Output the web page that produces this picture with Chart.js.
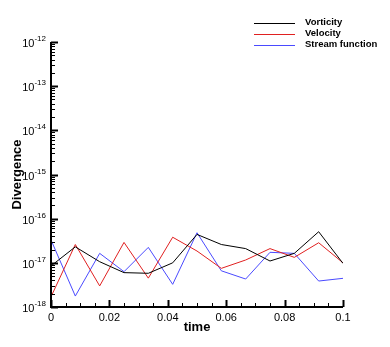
<!DOCTYPE html>
<html>
<head>
<meta charset="utf-8">
<script src="https://cdn.jsdelivr.net/npm/chart.js@4/dist/chart.umd.min.js"></script>
<style>
html,body{margin:0;padding:0;background:#fff;}
#wrap{width:390px;height:347px;position:relative;}
</style>
</head>
<body>
<div id="wrap"><canvas id="c" width="390" height="347"></canvas></div>
<script>
const times = [0, 0.00833, 0.01667, 0.025, 0.03333, 0.04167, 0.05, 0.05833, 0.06667, 0.075, 0.08333, 0.09167, 0.1];
const vorticity = [8.5e-18, 2.3e-17, 1.06e-17, 6.0e-18, 5.8e-18, 1.0e-17, 4.4e-17, 2.6e-17, 2.1e-17, 1.1e-17, 1.64e-17, 5.06e-17, 9.7e-18];
const velocity = [1.7e-18, 2.6e-17, 3.0e-18, 2.9e-17, 4.5e-18, 3.8e-17, 1.85e-17, 7.5e-18, 1.16e-17, 2.1e-17, 1.33e-17, 2.85e-17, 1.0e-17];
const streamFunction = [3.3e-17, 1.77e-18, 1.64e-17, 6.3e-18, 2.24e-17, 3.26e-18, 4.8e-17, 6.6e-18, 4.3e-18, 1.73e-17, 1.64e-17, 3.87e-18, 4.46e-18];
const seriesNames = ['Vorticity', 'Velocity', 'Stream function'];
const xTicks = [0, 0.02, 0.04, 0.06, 0.08, 0.1];
const xTickLabels = ['0', '0.02', '0.04', '0.06', '0.08', '0.1'];
const yExponents = [-18, -17, -16, -15, -14, -13, -12];
const yTickLabels = ['-18', '-17', '-16', '-15', '-14', '-13', '-12'];
const xTitle = 'time';
const yTitle = 'Divergence';

const colors = ['#000000', '#e02020', '#4a4aff'];
const FONT = '"Liberation Sans", Arial, Helvetica, sans-serif';

function mk(name, vals, color) {
  return {
    label: name,
    data: times.map((t, i) => ({x: t, y: vals[i]})),
    borderColor: color,
    backgroundColor: color,
    borderWidth: 1,
    pointRadius: 0,
    tension: 0,
    fill: false
  };
}

const axesPlugin = {
  id: 'axesPlugin',
  afterDatasetsDraw(chart) {
    const ctx = chart.ctx;
    const xs = chart.scales.x, ys = chart.scales.y;
    const a = chart.chartArea;
    ctx.save();
    ctx.strokeStyle = '#000';
    ctx.fillStyle = '#000';
    ctx.lineWidth = 2;
    ctx.beginPath();
    ctx.moveTo(a.left, a.top);
    ctx.lineTo(a.left, a.bottom);
    ctx.lineTo(a.right, a.bottom);
    ctx.stroke();
    for (let k = 0; k < yExponents.length; k++) {
      const e = yExponents[k];
      const py = Math.round(ys.getPixelForValue(Math.pow(10, e))) + 0.5;
      ctx.lineWidth = 2;
      ctx.beginPath();
      ctx.moveTo(a.left, py);
      ctx.lineTo(a.left + 7, py);
      ctx.stroke();
      if (k < yExponents.length - 1) {
        ctx.lineWidth = 1;
        for (let m = 2; m <= 9; m++) {
          const my = Math.round(ys.getPixelForValue(m * Math.pow(10, e))) + 0.5;
          ctx.beginPath();
          ctx.moveTo(a.left, my);
          ctx.lineTo(a.left + 4, my);
          ctx.stroke();
        }
      }
      ctx.textBaseline = 'middle';
      ctx.textAlign = 'right';
      ctx.font = '8px ' + FONT;
      const ew = ctx.measureText(yTickLabels[k]).width;
      const right = a.left - 5;
      ctx.fillText(yTickLabels[k], right, py - 4);
      ctx.font = '11px ' + FONT;
      ctx.fillText('10', right - ew, py + 1);
    }
    for (let i = 0; i <= 20; i++) {
      const v = i * 0.005;
      const px = Math.round(xs.getPixelForValue(v)) + 0.5;
      const major = i % 4 === 0;
      ctx.lineWidth = major ? 2 : 1;
      ctx.beginPath();
      ctx.moveTo(px, a.bottom);
      ctx.lineTo(px, a.bottom - (major ? 7 : 4));
      ctx.stroke();
    }
    ctx.font = '11px ' + FONT;
    ctx.textAlign = 'center';
    ctx.textBaseline = 'top';
    xTicks.forEach((v, i) => {
      ctx.fillText(xTickLabels[i], xs.getPixelForValue(v), a.bottom + 5);
    });
    ctx.font = 'bold 13px ' + FONT;
    ctx.textBaseline = 'middle';
    ctx.fillText(xTitle, (a.left + a.right) / 2, 327);
    ctx.save();
    ctx.translate(17, (a.top + a.bottom) / 2);
    ctx.rotate(-Math.PI / 2);
    ctx.fillText(yTitle, 0, 0);
    ctx.restore();
    ctx.font = 'bold 9.5px ' + FONT;
    ctx.textAlign = 'left';
    ctx.textBaseline = 'middle';
    const ly = [23, 34, 45];
    chart.data.datasets.forEach((ds, i) => {
      ctx.strokeStyle = ds.borderColor;
      ctx.lineWidth = 1;
      ctx.beginPath();
      ctx.moveTo(254, ly[i] + 0.5);
      ctx.lineTo(295, ly[i] + 0.5);
      ctx.stroke();
      ctx.fillStyle = '#000';
      ctx.fillText(ds.label, 305, ly[i] - 1);
    });
    ctx.restore();
  }
};

new Chart(document.getElementById('c'), {
  type: 'line',
  data: {
    datasets: [
      mk(seriesNames[0], vorticity, colors[0]),
      mk(seriesNames[1], velocity, colors[1]),
      mk(seriesNames[2], streamFunction, colors[2])
    ]
  },
  options: {
    responsive: false,
    animation: false,
    devicePixelRatio: 1,
    layout: {padding: {left: 51, right: 47, top: 42, bottom: 40}},
    plugins: {legend: {display: false}, tooltip: {enabled: false}},
    scales: {
      x: {type: 'linear', min: 0, max: 0.1, display: false},
      y: {type: 'logarithmic', min: 1e-18, max: 1e-12, display: false}
    }
  },
  plugins: [axesPlugin]
});
</script>
</body>
</html>
